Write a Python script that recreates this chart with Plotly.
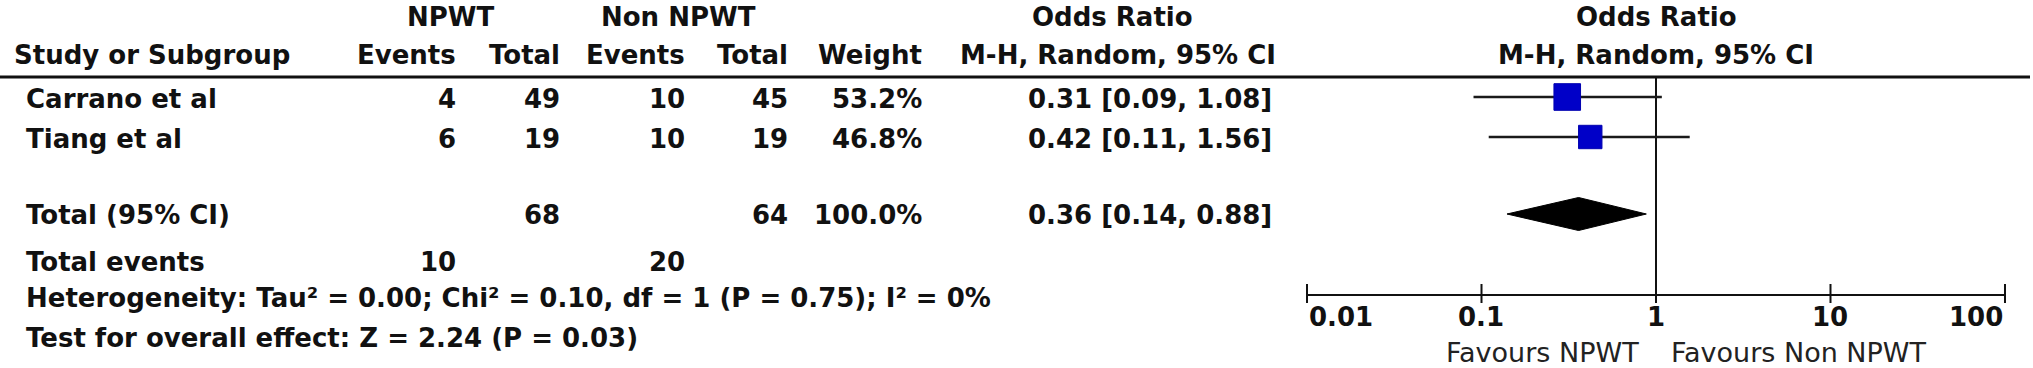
import math
import plotly.graph_objects as go

# ---------------- data ----------------
studies = ["Carrano et al", "Tiang et al"]
npwt_events = [4, 6]
npwt_total = [49, 19]
non_events = [10, 10]
non_total = [45, 19]
weights = [53.2, 46.8]
or_est = [0.31, 0.42]
ci_low = [0.09, 0.11]
ci_high = [1.08, 1.56]

total_label = "Total (95% CI)"
total_npwt = 68
total_non = 64
total_weight = 100.0
total_or = 0.36
total_low = 0.14
total_high = 0.88

events_label = "Total events"
total_events_npwt = 10
total_events_non = 20

heterogeneity_text = "Heterogeneity: Tau² = 0.00; Chi² = 0.10, df = 1 (P = 0.75); I² = 0%"
overall_text = "Test for overall effect: Z = 2.24 (P = 0.03)"

tick_values = [0.01, 0.1, 1, 10, 100]
tick_labels = ["0.01", "0.1", "1", "10", "100"]
favours_left = "Favours NPWT"
favours_right = "Favours Non NPWT"

# ---------------- layout constants (pixels) ----------------
W, H = 2033, 368
ROW_Y = [97, 137]
TOTAL_Y = 214
EVENTS_Y = 262
HET_Y = 298
TEST_Y = 338
HEAD1_Y = 17
HEAD2_Y = 55
RULE_Y = 77
AXIS_Y = 295
TICKLAB_Y = 317
FAV_Y = 352

COL_LEFT = 24
COL_STUDY_HEAD = 12
COL_EV1 = 458
COL_TOT1 = 562
COL_EV2 = 687
COL_TOT2 = 790
COL_WEIGHT = 924
COL_OR = 1274
COL_OR_HEAD_R = 1278

AX_LEFT, AX_RIGHT = 1307, 2005
PAD = 0.05  # log-decades of padding on each side
dec = (AX_RIGHT - AX_LEFT) / 4.0
dom0 = (AX_LEFT - PAD * dec) / W
dom1 = (AX_RIGHT + PAD * dec) / W

FONT = "DejaVu Sans"
FS = 26
TXT = "#111111"

fig = go.Figure()

# axis line
fig.add_trace(go.Scatter(x=[tick_values[0], tick_values[-1]], y=[AXIS_Y, AXIS_Y],
                         mode="lines", line=dict(color="#111111", width=2), hoverinfo="skip"))
# tick marks
tx, ty = [], []
for v in tick_values:
    tx += [v, v, None]
    ty += [AXIS_Y - 11, AXIS_Y + 8, None]
fig.add_trace(go.Scatter(x=tx, y=ty, mode="lines",
                         line=dict(color="#111111", width=2), hoverinfo="skip"))
# line of no effect
fig.add_trace(go.Scatter(x=[1, 1], y=[RULE_Y, AXIS_Y], mode="lines",
                         line=dict(color="#111111", width=2), hoverinfo="skip"))

# CI lines
for i in range(len(studies)):
    fig.add_trace(go.Scatter(x=[ci_low[i], ci_high[i]], y=[ROW_Y[i], ROW_Y[i]],
                             mode="lines", line=dict(color="#1a1a1a", width=2.5),
                             hoverinfo="skip"))
# squares
fig.add_trace(go.Scatter(x=or_est, y=ROW_Y, mode="markers",
                         marker=dict(symbol="square", size=[w * 0.5 for w in weights],
                                     color="#0000C8", opacity=1,
                                     line=dict(width=1, color="#0000B0")),
                         cliponaxis=False, hoverinfo="skip"))
# diamond
fig.add_trace(go.Scatter(x=[total_low, total_or, total_high, total_or, total_low],
                         y=[TOTAL_Y, TOTAL_Y - 16.5, TOTAL_Y, TOTAL_Y + 16.5, TOTAL_Y],
                         mode="lines", fill="toself", fillcolor="#000000",
                         line=dict(color="#000000", width=1), hoverinfo="skip"))

ann = []


def txt(x, y, s, anchor="left", xref="paper", weight="bold", size=FS):
    ann.append(dict(x=x / W if xref == "paper" else x, y=y, xref=xref, yref="y",
                    text=s, showarrow=False, xanchor=anchor, yanchor="middle",
                    font=dict(family=FONT, size=size, color=TXT, weight=weight)))


# headers
txt(450, HEAD1_Y, "NPWT", "center")
txt(678, HEAD1_Y, "Non NPWT", "center")
txt(1112, HEAD1_Y, "Odds Ratio", "center")
txt(COL_STUDY_HEAD, HEAD2_Y, "Study or Subgroup")
txt(COL_EV1, HEAD2_Y, "Events", "right")
txt(COL_TOT1, HEAD2_Y, "Total", "right")
txt(COL_EV2, HEAD2_Y, "Events", "right")
txt(COL_TOT2, HEAD2_Y, "Total", "right")
txt(COL_WEIGHT, HEAD2_Y, "Weight", "right")
txt(COL_OR_HEAD_R, HEAD2_Y, "M-H, Random, 95% CI", "right")
# right panel header (centred on the line of no effect)
ann.append(dict(x=0, y=HEAD1_Y, xref="x", yref="y", text="Odds Ratio", showarrow=False,
                xanchor="center", yanchor="middle",
                font=dict(family=FONT, size=FS, color=TXT, weight="bold")))
ann.append(dict(x=0, y=HEAD2_Y, xref="x", yref="y", text="M-H, Random, 95% CI",
                showarrow=False, xanchor="center", yanchor="middle",
                font=dict(family=FONT, size=FS, color=TXT, weight="bold")))

# study rows
for i, s in enumerate(studies):
    y = ROW_Y[i] + 2
    txt(COL_LEFT, y, s)
    txt(COL_EV1, y, str(npwt_events[i]), "right")
    txt(COL_TOT1, y, str(npwt_total[i]), "right")
    txt(COL_EV2, y, str(non_events[i]), "right")
    txt(COL_TOT2, y, str(non_total[i]), "right")
    txt(COL_WEIGHT, y, f"{weights[i]:.1f}%", "right")
    txt(COL_OR, y, f"{or_est[i]:.2f} [{ci_low[i]:.2f}, {ci_high[i]:.2f}]", "right")

# total row
ty_ = TOTAL_Y + 1
txt(COL_LEFT, ty_, total_label)
txt(COL_TOT1, ty_, str(total_npwt), "right")
txt(COL_TOT2, ty_, str(total_non), "right")
txt(COL_WEIGHT, ty_, f"{total_weight:.1f}%", "right")
txt(COL_OR, ty_, f"{total_or:.2f} [{total_low:.2f}, {total_high:.2f}]", "right")

txt(COL_LEFT, EVENTS_Y, events_label)
txt(COL_EV1, EVENTS_Y, str(total_events_npwt), "right")
txt(COL_EV2, EVENTS_Y, str(total_events_non), "right")
txt(COL_LEFT, HET_Y, heterogeneity_text)
txt(COL_LEFT, TEST_Y, overall_text)

# tick labels
for k, (v, lab) in enumerate(zip(tick_values, tick_labels)):
    anchor = "left" if k == 0 else ("right" if k == len(tick_values) - 1 else "center")
    ann.append(dict(x=math.log10(v), y=TICKLAB_Y, xref="x", yref="y", text=lab,
                    showarrow=False, xanchor=anchor, yanchor="middle",
                    font=dict(family=FONT, size=FS, color=TXT, weight="bold")))

# favours labels
ann.append(dict(x=0, y=FAV_Y, xref="x", yref="y", text=favours_left, showarrow=False,
                xanchor="right", yanchor="middle", xshift=-15,
                font=dict(family=FONT, size=27, color="#222222")))
ann.append(dict(x=0, y=FAV_Y, xref="x", yref="y", text=favours_right, showarrow=False,
                xanchor="left", yanchor="middle", xshift=13,
                font=dict(family=FONT, size=27, color="#222222")))

shapes = [dict(type="line", xref="paper", yref="y", x0=0, x1=2030 / W,
               y0=RULE_Y, y1=RULE_Y, line=dict(color="#111111", width=3))]

fig.update_layout(
    width=W, height=H, margin=dict(l=0, r=0, t=0, b=0),
    paper_bgcolor="white", plot_bgcolor="rgba(0,0,0,0)", showlegend=False,
    annotations=ann, shapes=shapes,
    xaxis=dict(type="log", range=[-2 - PAD, 2 + PAD], domain=[dom0, dom1],
               showgrid=False, zeroline=False, showline=False, showticklabels=False,
               ticks="", fixedrange=True),
    yaxis=dict(range=[H, 0], domain=[0, 1], visible=False, fixedrange=True),
)

fig.write_html(
    "out.html",
    config={"displayModeBar": False},
    post_script="document.body.style.margin='0px';document.body.style.overflow='hidden';",
)
